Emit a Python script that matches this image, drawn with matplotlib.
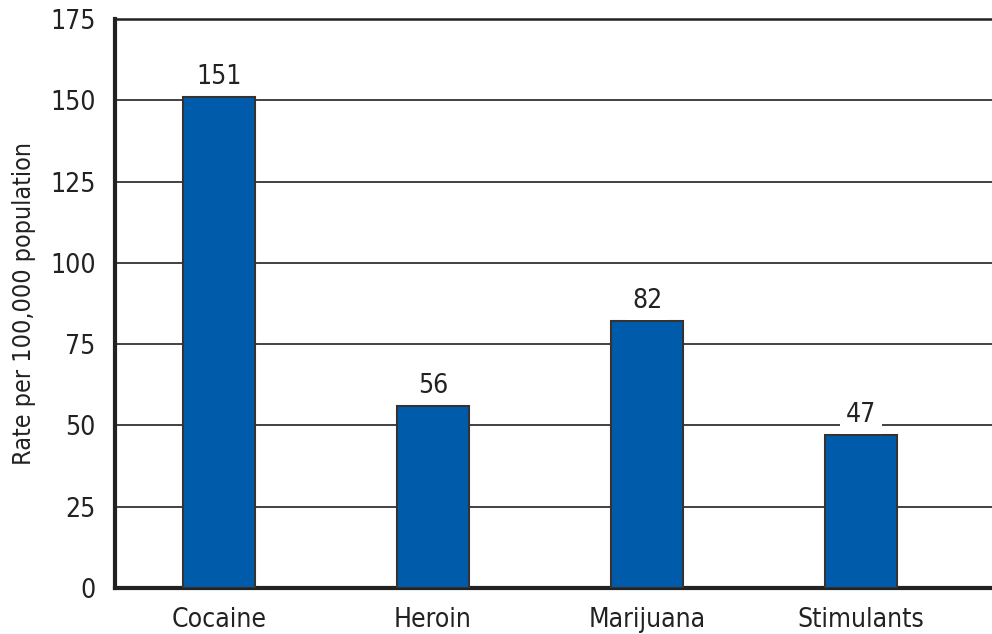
import matplotlib.pyplot as plt
import numpy as np

# Dados
drogas = ['Cocaine', 'Heroin', 'Marijuana', 'Stimulants']
taxas = [151, 56, 82, 47]
yticks = [0, 25, 50, 75, 100, 125, 150, 175]

plt.rcParams['font.family'] = ['DejaVu Sans']
plt.rcParams['font.stretch'] = 'condensed'

fig = plt.figure(figsize=(9.92, 6.34), dpi=100)
ax = fig.add_axes([0.116, 0.0726, 0.884, 0.8974])

x = np.arange(len(drogas))
bars = ax.bar(x, taxas, width=0.34, color='#005BAA', edgecolor='#333333',
              linewidth=1.5, zorder=3)

ax.set_xlim(-0.486, 3.612)
ax.set_ylim(0, 175)
ax.set_yticks(yticks)
ax.set_yticklabels([str(t) for t in yticks])
ax.set_xticks(x)
ax.set_xticklabels(drogas)
ax.tick_params(axis='both', length=0, labelsize=19, colors='#222222')
ax.tick_params(axis='x', pad=14)
ax.tick_params(axis='y', pad=14)

ax.grid(axis='y', color='#333333', linewidth=1.3, zorder=1)
ax.set_axisbelow(True)

ax.spines['right'].set_visible(False)
ax.spines['top'].set_linewidth(1.8)
ax.spines['top'].set_color('#222222')
ax.spines['left'].set_linewidth(3)
ax.spines['bottom'].set_linewidth(3)
ax.spines['left'].set_color('#222222')
ax.spines['bottom'].set_color('#222222')

for xi, v in zip(x, taxas):
    ax.text(xi, v + 2.2, str(v), ha='center', va='bottom', fontsize=19,
            color='#222222', zorder=4,
            bbox=dict(facecolor='white', edgecolor='none', pad=4))

ax.set_ylabel('Rate per 100,000 population', fontsize=18, color='#222222',
              labelpad=10)

plt.savefig('out.png', dpi=100)
